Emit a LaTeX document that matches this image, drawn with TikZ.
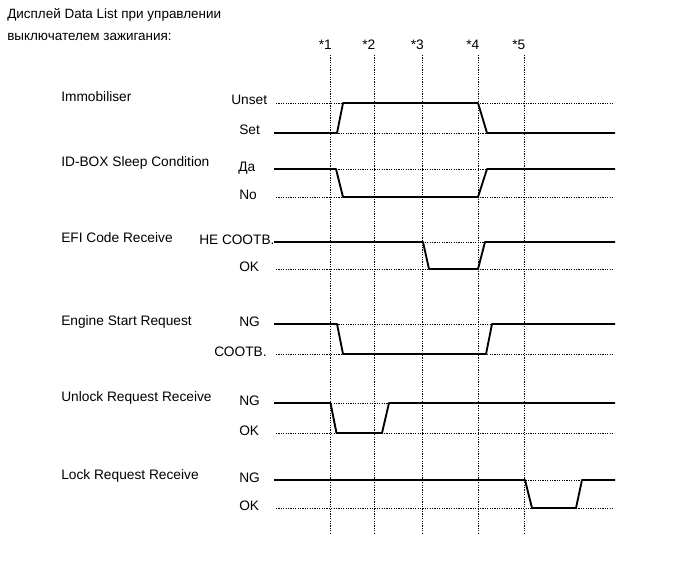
\documentclass[tikz,border=0pt]{standalone}
\usepackage{fontspec}
\setmainfont{Liberation Sans}
\usepackage{tikz}

\begin{document}
\begin{tikzpicture}[x=0.75pt,y=0.75pt,yscale=-1,xscale=1,
    wave/.style={line width=1.4pt, line join=round},
    refline/.style={line width=0.6pt, dash pattern={on 0.9pt off 0.9pt}},
    lbl/.style={anchor=base west, inner sep=0pt, font=\fontsize{10.3}{12}\selectfont}]
    \useasboundingbox (0,0) rectangle (689,562);

    % Text Node
    \draw (7,18.5) node [lbl, font=\fontsize{10.1}{12}\selectfont] (title1) {Дисплей Data List при управлении};
    % Text Node
    \draw (7,40) node [lbl, font=\fontsize{10.1}{12}\selectfont] (title2) {выключателем зажигания:};

    %Time marks
    \draw (332,49.5) node [lbl, anchor=base east] (t1) {*1};
    \draw (375.5,49.5) node [lbl, anchor=base east] (t2) {*2};
    \draw (424,49.5) node [lbl, anchor=base east] (t3) {*3};
    \draw (479.5,49.5) node [lbl, anchor=base east] (t4) {*4};
    \draw (525.5,49.5) node [lbl, anchor=base east] (t5) {*5};
    %Straight Lines [time marks]
    \draw [refline] (330.5,55) -- (330.5,533) ;
    \draw [refline] (374,55) -- (374,533) ;
    \draw [refline] (422.5,55) -- (422.5,533) ;
    \draw [refline] (478,55) -- (478,533) ;
    \draw [refline] (524,55) -- (524,533) ;

    %Straight Lines [levels]
    \draw [refline] (276,103) -- (613,103) ;
    \draw [refline] (276,133) -- (613,133) ;
    \draw [refline] (276,169) -- (613,169) ;
    \draw [refline] (276,197) -- (613,197) ;
    \draw [refline] (276,242) -- (613,242) ;
    \draw [refline] (276,269) -- (613,269) ;
    \draw [refline] (276,324) -- (613,324) ;
    \draw [refline] (276,354) -- (613,354) ;
    \draw [refline] (276,403) -- (613,403) ;
    \draw [refline] (276,433) -- (613,433) ;
    \draw [refline] (276,480) -- (613,480) ;
    \draw [refline] (276,508) -- (613,508) ;

    %Waveforms
    \draw [wave] (274,133) -- (337,133) -- (343,103) -- (478,103) -- (487,133) -- (615,133) ;
    \draw [wave] (274,169) -- (336,169) -- (343,197) -- (478,197) -- (487,169) -- (615,169) ;
    \draw [wave] (274,242) -- (423,242) -- (429,269) -- (478,269) -- (485,242) -- (615,242) ;
    \draw [wave] (274,324) -- (337,324) -- (343,354) -- (486,354) -- (492,324) -- (615,324) ;
    \draw [wave] (274,403) -- (330.5,403) -- (336.5,433) -- (382,433) -- (389,403) -- (615,403) ;
    \draw [wave] (274,480) -- (525,480) -- (532,508) -- (576,508) -- (582,480) -- (615,480) ;

    % Text Node
    \draw (61,101.5) node [lbl] (immo) {Immobiliser};
    % Text Node
    \draw (61,166) node [lbl] (idbox) {ID-BOX Sleep Condition};
    % Text Node
    \draw (61,242) node [lbl] (efi) {EFI Code Receive};
    % Text Node
    \draw (61,325.5) node [lbl] (eng) {Engine Start Request};
    % Text Node
    \draw (61,401.5) node [lbl] (unlk) {Unlock Request Receive};
    % Text Node
    \draw (61,479) node [lbl] (lck) {Lock Request Receive};

    % Text Node
    \draw (231,104.5) node [lbl] (immoHi) {Unset};
    \draw (239,134.5) node [lbl] (immoLo) {Set};
    % Text Node
    \draw (238,171) node [lbl] (idboxHi) {Да};
    \draw (239,199) node [lbl] (idboxLo) {No};
    % Text Node
    \draw (199,244) node [lbl] (efiHi) {НЕ СООТВ.};
    \draw (239,271) node [lbl] (efiLo) {OK};
    % Text Node
    \draw (239,326) node [lbl] (engHi) {NG};
    \draw (214,356) node [lbl] (engLo) {СООТВ.};
    % Text Node
    \draw (239,405) node [lbl] (unlkHi) {NG};
    \draw (239,435) node [lbl] (unlkLo) {OK};
    % Text Node
    \draw (239,482) node [lbl] (lckHi) {NG};
    \draw (239,510) node [lbl] (lckLo) {OK};

\end{tikzpicture}
\end{document}
